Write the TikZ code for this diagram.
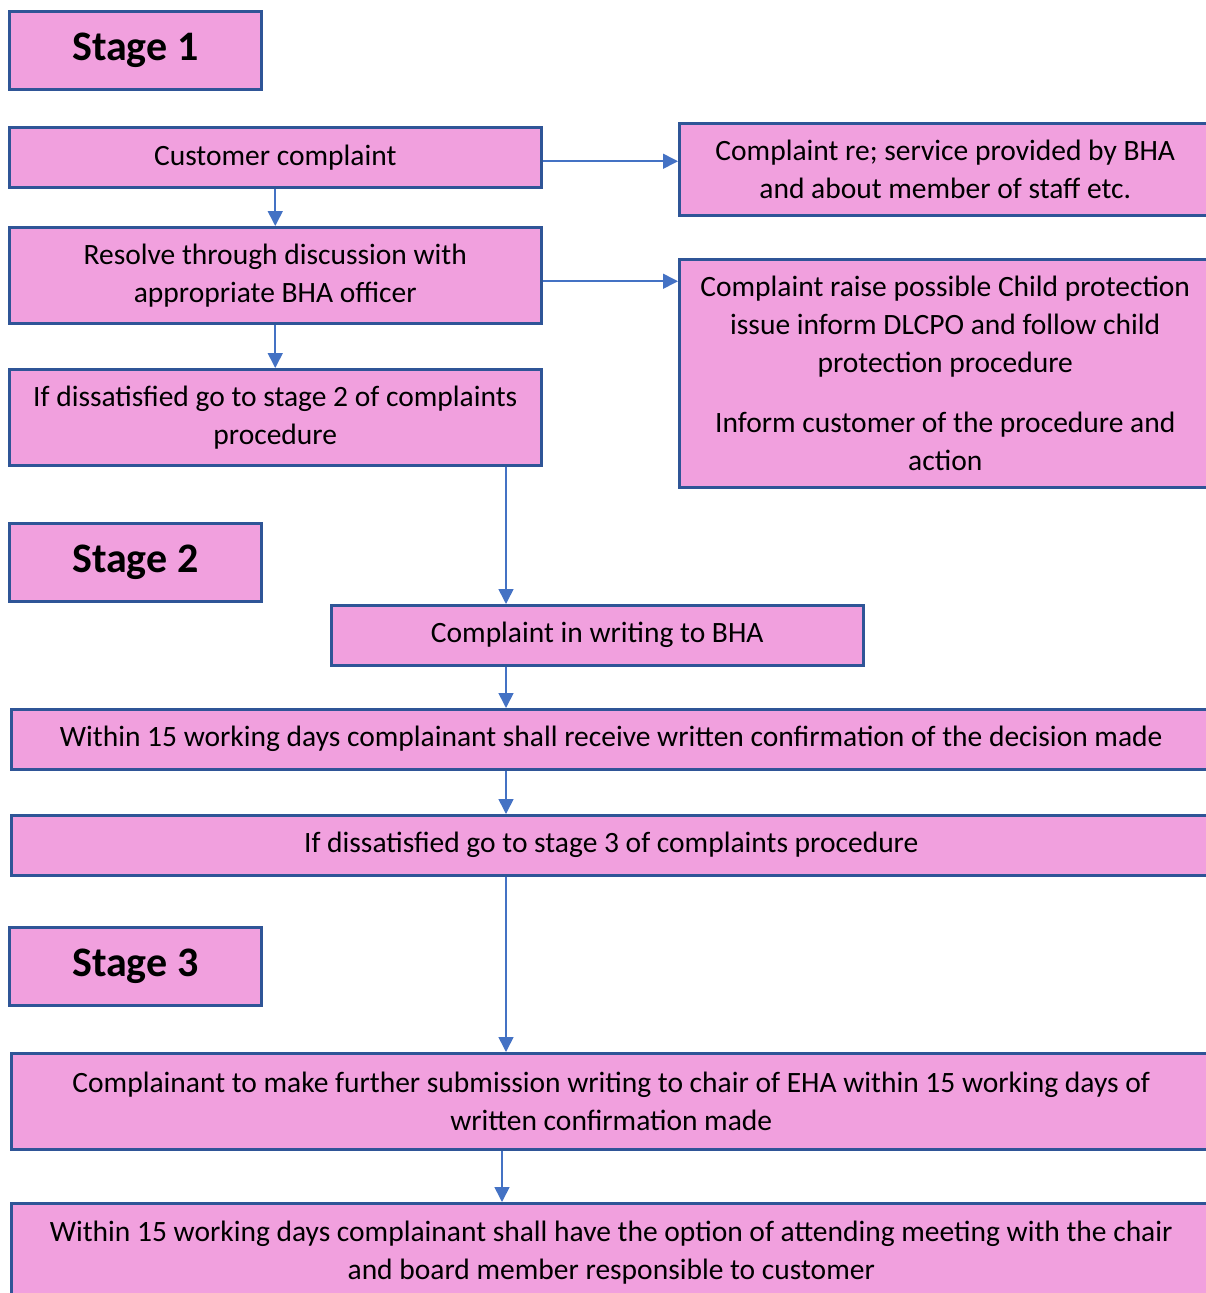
\documentclass[tikz,border=0pt]{standalone}
\usepackage{fontspec}
\setmainfont{Carlito}
\usetikzlibrary{arrows.meta}
\definecolor{boxpink}{RGB}{241,160,222}
\definecolor{boxline}{RGB}{47,85,151}
\definecolor{arrblue}{RGB}{68,114,196}
\begin{document}
\begin{tikzpicture}[x=1pt, y=-1pt,
    box/.style={draw=boxline, fill=boxpink, line width=2.5pt, inner sep=0pt,
      anchor=north west, align=center, font=\fontsize{29.5}{38}\selectfont},
    stagebox/.style={box, minimum width=252pt, minimum height=78pt,
      font=\fontsize{42}{50}\selectfont\bfseries},
    arr/.style={draw=arrblue, line width=1.6pt, -{Triangle[width=15pt,length=15pt]}}]
    \useasboundingbox (0,0) rectangle (1206,1293);
    \coordinate (mid) at (506,0);
    \coordinate (midb) at (502,0);
    \node[stagebox] (st1) at (8,10) {Stage 1};
    \node[box, minimum width=532pt, minimum height=60pt] (cust) at (8,126) {Customer complaint};
    \node[box, minimum width=532pt, minimum height=96pt] (resolve) at (8,226)
      {Resolve through discussion with\\appropriate BHA officer};
    \node[box, minimum width=532pt, minimum height=96pt] (diss2) at (8,368)
      {If dissatisfied go to stage 2 of complaints\\procedure};
    \node[box, minimum width=532pt, minimum height=92pt] (serv) at (678,122)
      {Complaint re; service provided by BHA\\and about member of staff etc.};
    \node[box, minimum width=532pt, minimum height=228pt] (child) at (678,258)
      {Complaint raise possible Child protection\\issue inform DLCPO and follow child\\protection procedure\\[22pt]Inform customer of the procedure and\\action};
    \node[stagebox] (st2) at (8,522) {Stage 2};
    \node[box, minimum width=532pt, minimum height=60pt] (write) at (330,604) {Complaint in writing to BHA};
    \node[box, minimum width=1200pt, minimum height=60pt] (decide) at (10,708)
      {Within 15 working days complainant shall receive written confirmation of the decision made};
    \node[box, minimum width=1200pt, minimum height=60pt] (diss3) at (10,814)
      {If dissatisfied go to stage 3 of complaints procedure};
    \node[stagebox] (st3) at (8,926) {Stage 3};
    \node[box, minimum width=1200pt, minimum height=96pt] (submit) at (10,1052)
      {Complainant to make further submission writing to chair of EHA within 15 working days of\\written confirmation made};
    \node[box, minimum width=1200pt, minimum height=99pt] (meet) at (10,1202)
      {Within 15 working days complainant shall have the option of attending meeting with the chair\\and board member responsible to customer};
    \draw[arr] ([yshift=-4pt]cust.east) -- ([yshift=-4pt]cust.east -| serv.west);
    \draw[arr] ([yshift=-6pt]resolve.east) -- ([yshift=-6pt]resolve.east -| child.west);
    \draw[arr] (cust.south) -- (resolve.north);
    \draw[arr] (resolve.south) -- (diss2.north);
    \draw[arr] (diss2.south -| mid) -- (write.north -| mid);
    \draw[arr] (write.south -| mid) -- (decide.north -| mid);
    \draw[arr] (decide.south -| mid) -- (diss3.north -| mid);
    \draw[arr] (diss3.south -| mid) -- (submit.north -| mid);
    \draw[arr] (submit.south -| midb) -- (meet.north -| midb);
\end{tikzpicture}
\end{document}
